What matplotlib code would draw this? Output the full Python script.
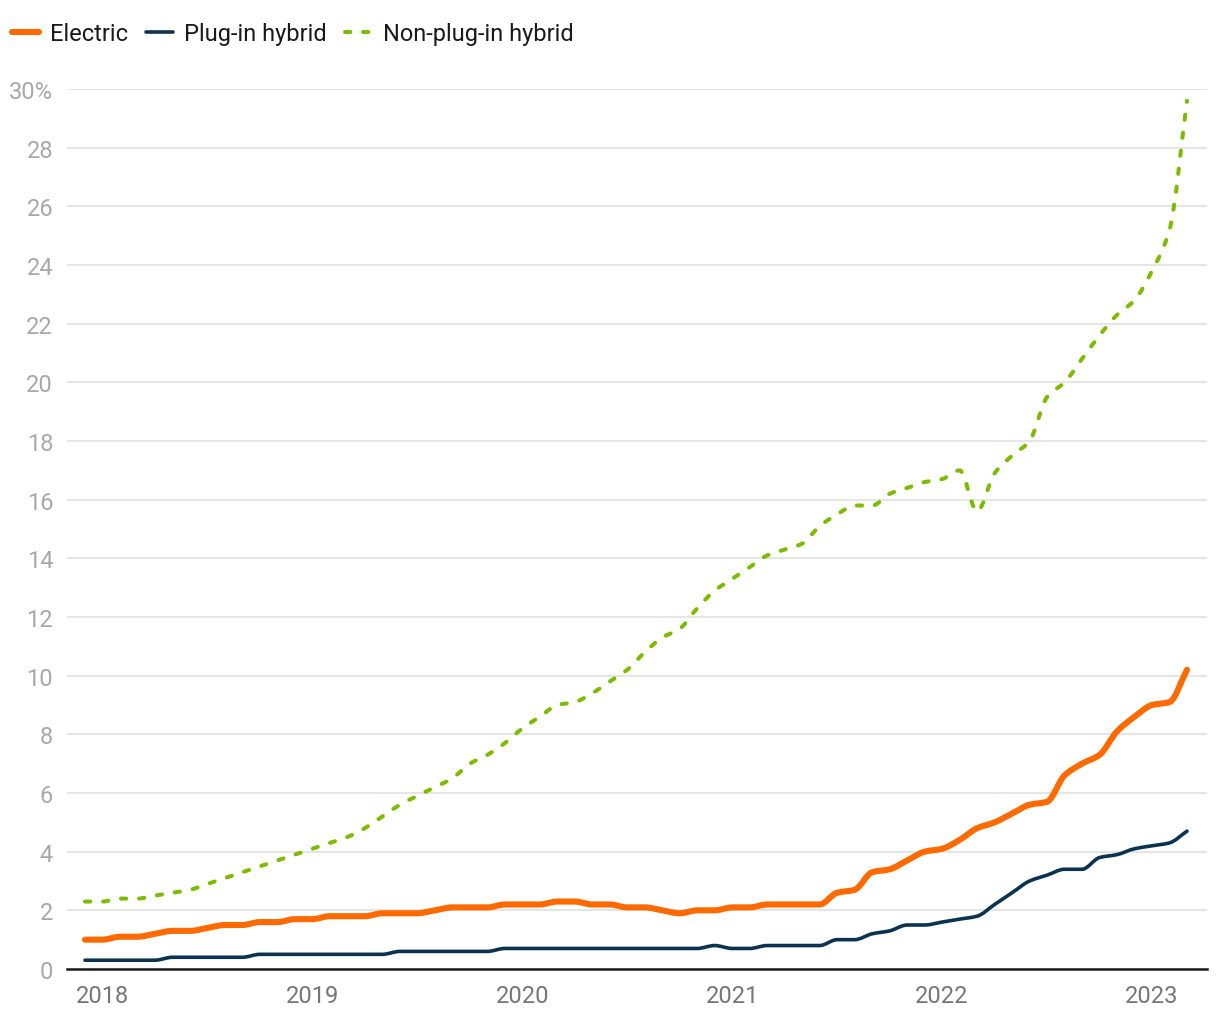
import numpy as np
import pandas as pd
import matplotlib
matplotlib.use("Agg")
import matplotlib.pyplot as plt
from matplotlib.path import Path
from matplotlib.patches import PathPatch
from matplotlib.lines import Line2D

plt.rcParams['font.family'] = ['Roboto', 'DejaVu Sans']

# ---- data (monthly share of new car sales, %) ----
months = [p.strftime('%Y-%m') for p in pd.period_range('2017-12', '2023-03', freq='M')]

electric = [1.0, 1.0, 1.1, 1.1, 1.2, 1.3, 1.3, 1.4, 1.5, 1.5,
            1.6, 1.6, 1.7, 1.7, 1.8, 1.8, 1.8, 1.9, 1.9, 1.9,
            2.0, 2.1, 2.1, 2.1, 2.2, 2.2, 2.2, 2.3, 2.3, 2.2,
            2.2, 2.1, 2.1, 2.0, 1.9, 2.0, 2.0, 2.1, 2.1, 2.2,
            2.2, 2.2, 2.2, 2.6, 2.7, 3.3, 3.4, 3.7, 4.0, 4.1,
            4.4, 4.8, 5.0, 5.3, 5.6, 5.7, 6.6, 7.0, 7.3, 8.1,
            8.6, 9.0, 9.1, 10.2]

plugin_hybrid = [0.3, 0.3, 0.3, 0.3, 0.3, 0.4, 0.4, 0.4, 0.4, 0.4,
                 0.5, 0.5, 0.5, 0.5, 0.5, 0.5, 0.5, 0.5, 0.6, 0.6,
                 0.6, 0.6, 0.6, 0.6, 0.7, 0.7, 0.7, 0.7, 0.7, 0.7,
                 0.7, 0.7, 0.7, 0.7, 0.7, 0.7, 0.8, 0.7, 0.7, 0.8,
                 0.8, 0.8, 0.8, 1.0, 1.0, 1.2, 1.3, 1.5, 1.5, 1.6,
                 1.7, 1.8, 2.2, 2.6, 3.0, 3.2, 3.4, 3.4, 3.8, 3.9,
                 4.1, 4.2, 4.3, 4.7]

non_plugin_hybrid = [2.3, 2.3, 2.4, 2.4, 2.5, 2.6, 2.7, 2.9, 3.1, 3.3,
                     3.5, 3.7, 3.9, 4.1, 4.3, 4.5, 4.8, 5.2, 5.6, 5.9,
                     6.2, 6.5, 7.0, 7.3, 7.7, 8.2, 8.6, 9.0, 9.1, 9.4,
                     9.8, 10.2, 10.8, 11.3, 11.6, 12.3, 12.9, 13.3, 13.7, 14.1,
                     14.3, 14.5, 15.1, 15.5, 15.8, 15.8, 16.2, 16.4, 16.6, 16.7,
                     17.0, 15.6, 16.9, 17.5, 18.0, 19.5, 20.0, 20.8, 21.6, 22.3,
                     22.8, 23.8, 25.2, 29.6]

series_names = ['Electric', 'Plug-in hybrid', 'Non-plug-in hybrid']
y_ticks = list(range(0, 31, 2))

# ---- styles ----
C_ELEC = '#ff6a00'
C_PHEV = '#0b3350'
C_HEV = '#7cbb00'


def monotone_path(x, y):
    """Monotone cubic (Fritsch-Carlson) curve expressed as Bezier segments."""
    x = np.asarray(x, float)
    y = np.asarray(y, float)
    h = np.diff(x)
    d = np.diff(y) / h
    n = len(x)
    m = np.zeros(n)
    m[0], m[-1] = d[0], d[-1]
    for k in range(1, n - 1):
        if d[k - 1] * d[k] <= 0:
            m[k] = 0.0
        else:
            w1 = 2 * h[k] + h[k - 1]
            w2 = h[k] + 2 * h[k - 1]
            m[k] = (w1 + w2) / (w1 / d[k - 1] + w2 / d[k])
    verts = [(x[0], y[0])]
    codes = [Path.MOVETO]
    for k in range(n - 1):
        hk = h[k] / 3.0
        verts += [(x[k] + hk, y[k] + m[k] * hk),
                  (x[k + 1] - hk, y[k + 1] - m[k + 1] * hk),
                  (x[k + 1], y[k + 1])]
        codes += [Path.CURVE4] * 3
    return Path(verts, codes)


fig = plt.figure(figsize=(12.2, 10.2), dpi=100)
ax = fig.add_axes([67 / 1220, 1 - 970 / 1020, (1207 - 67) / 1220, (970 - 90) / 1020])

x = np.arange(len(months))

styles = [
    dict(color=C_ELEC, lw=4.4, ls='-'),
    dict(color=C_PHEV, lw=2.6, ls='-'),
    dict(color=C_HEV, lw=2.9, ls=(0, (1.3, 3.2))),
]
datasets = [electric, plugin_hybrid, non_plugin_hybrid]

for data, st, z in zip(datasets, styles, [5, 4, 3]):
    patch = PathPatch(monotone_path(x, data), fill=False, edgecolor=st['color'],
                      lw=st['lw'], linestyle=st['ls'], capstyle='round',
                      joinstyle='round', zorder=z, clip_on=False)
    ax.add_patch(patch)

ax.set_xlim(-18 / 17.5, 63 + 20 / 17.5)
ax.set_ylim(0, 30)

ax.set_yticks(y_ticks)
ax.set_yticklabels([f'{v}%' if v == 30 else str(v) for v in y_ticks])
year_idx = [i for i, m in enumerate(months) if m.endswith('-01')]
ax.set_xticks(year_idx)
ax.set_xticklabels([months[i][:4] for i in year_idx])

ax.tick_params(axis='y', length=0, pad=10, labelsize=17, labelcolor='#a8a8a8')
ax.tick_params(axis='x', length=0, pad=11, labelsize=17, labelcolor='#767676')

ax.grid(axis='y', color='#e3e3e3', lw=1.3)
ax.grid(axis='x', visible=False)
ax.set_axisbelow(True)
for s in ['top', 'right', 'left']:
    ax.spines[s].set_visible(False)
ax.spines['bottom'].set_color('#1a1a1a')
ax.spines['bottom'].set_linewidth(1.8)
ax.spines['bottom'].set_zorder(6)

handles = [Line2D([0], [0], color=st['color'], lw=st['lw'], ls=st['ls'],
                  solid_capstyle='round', dash_capstyle='round') for st in styles]
fig.legend(handles, series_names, loc='upper left', bbox_to_anchor=(12 / 1220, 1 - 23 / 1020),
           ncol=3, frameon=False, fontsize=17, handlelength=1.15, handletextpad=0.45,
           columnspacing=0.78, borderpad=0, borderaxespad=0, labelcolor='#1a1a1a')

fig.savefig('out.png', dpi=100)
